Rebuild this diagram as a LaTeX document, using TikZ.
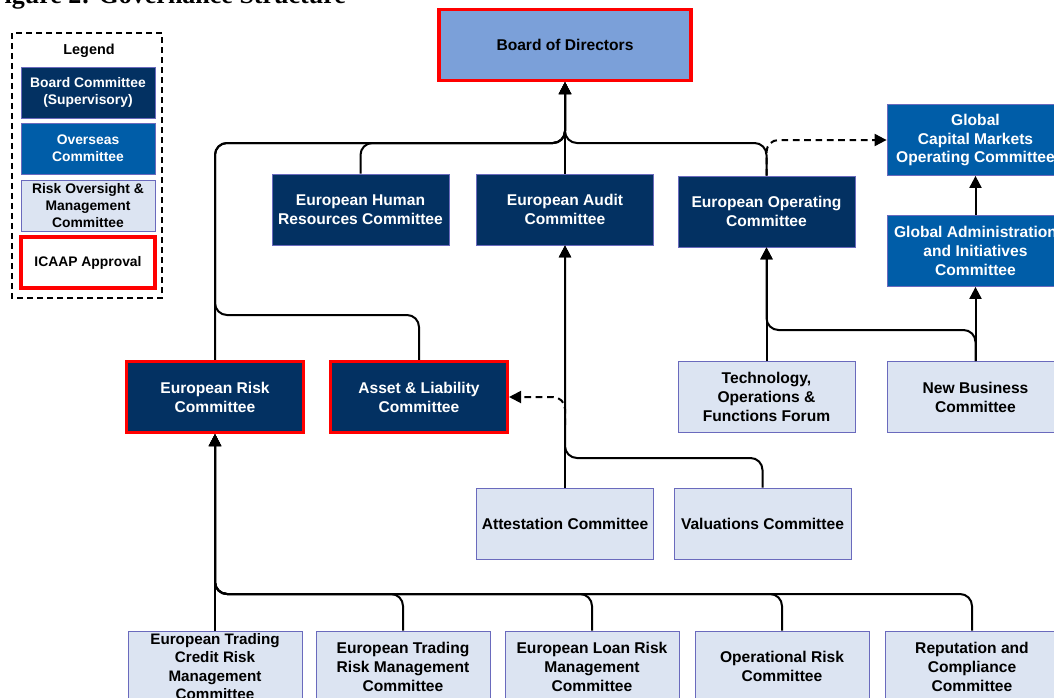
\documentclass[tikz,border=0pt]{standalone}
\usepackage{fontspec}
\setmainfont{Liberation Sans}
\newfontfamily\titlefont{Liberation Serif}
\usetikzlibrary{arrows.meta}
\definecolor{navy}{HTML}{033162}
\definecolor{oversea}{HTML}{005DA8}
\definecolor{paleblue}{HTML}{DCE4F2}
\definecolor{boardblue}{HTML}{7BA0D9}
\definecolor{edgeblue}{HTML}{6A6ABD}
\definecolor{icaapred}{HTML}{FF0000}

\begin{document}
\begin{tikzpicture}[x=0.75pt, y=-0.75pt]
  \tikzstyle{box}=[rectangle, draw=edgeblue, line width=0.6pt, align=center,
    font=\bfseries\fontsize{11.7}{14.2}\selectfont, minimum width=132.75pt,
    minimum height=53.25pt, inner sep=1pt]
  \tikzstyle{supbox}=[box, fill=navy, text=white]
  \tikzstyle{seabox}=[box, fill=oversea, text=white]
  \tikzstyle{riskbox}=[box, fill=paleblue, text=black]
  \tikzstyle{lowbox}=[riskbox, minimum width=130.5pt]
  \tikzstyle{icaap}=[draw=icaapred, line width=2.3pt]
  \tikzstyle{keybox}=[font=\bfseries\fontsize{10.4}{12.9}\selectfont,
    minimum width=100.5pt, minimum height=38.25pt]
  \tikzstyle{link}=[line width=1.5pt, rounded corners=9pt,
    -{Triangle[length=9pt, width=9pt]}]
  \tikzstyle{dashlink}=[link, dash pattern=on 5pt off 3.5pt]
  \useasboundingbox (0, 0) rectangle (1054, 697);
  \node[font=\titlefont\bfseries\fontsize{19.5}{23}\selectfont, anchor=base west]
    (title) at (-16, 3) {Figure 2: Governance Structure};
  \draw[line width=0.8pt, dash pattern=on 4.5pt off 3pt] (12, 33) rectangle (162, 298);
  \node[font=\bfseries\fontsize{10.8}{12.9}\selectfont] (legend) at (89, 51) {Legend};
  \node[supbox, keybox] (key-sup) at (88, 92.5) {Board Committee\\(Supervisory)};
  \node[seabox, keybox] (key-sea) at (88, 148.5) {Overseas\\Committee};
  \node[riskbox, keybox] (key-risk) at (88, 205.5) {Risk Oversight \&\\Management\\Committee};
  \node[box, icaap, keybox] (key-icaap) at (88, 262.5) {ICAAP Approval};
  \node[box, icaap, fill=boardblue, minimum width=189pt] (BOD) at (565, 45) {Board of Directors};
  \node[supbox] (EHRC) at (360.5, 209.5) {European Human\\Resources Committee};
  \node[supbox] (EAC) at (565, 209.5) {European Audit\\Committee};
  \node[supbox] (EOC) at (766.5, 211.5) {European Operating\\Committee};
  \node[seabox] (GCMOC) at (975.5, 140) {Global\\Capital Markets\\Operating Committee};
  \node[seabox] (GAIC) at (975.5, 251) {Global Administration\\and Initiatives\\Committee};
  \node[supbox, icaap] (ERC) at (215, 397) {European Risk\\Committee};
  \node[supbox, icaap] (ALC) at (419, 397) {Asset \& Liability\\Committee};
  \node[riskbox] (TOFF) at (766.5, 397) {Technology,\\Operations \&\\Functions Forum};
  \node[riskbox] (NBC) at (975.5, 397) {New Business\\Committee};
  \node[riskbox] (AC) at (565, 523.5) {Attestation Committee};
  \node[riskbox] (VC) at (762.5, 523.5) {Valuations Committee};
  \node[lowbox, font=\bfseries\fontsize{11.4}{13.7}\selectfont] (ETCRMC) at (215, 666.5)
    {European Trading\\Credit Risk\\Management\\Committee};
  \node[lowbox] (ETRMC) at (403, 666.5) {European Trading\\Risk Management\\Committee};
  \node[lowbox] (ELRMC) at (592, 666.5) {European Loan Risk\\Management\\Committee};
  \node[lowbox] (ORC) at (782, 666.5) {Operational Risk\\Committee};
  \node[lowbox] (RCC) at (972, 666.5) {Reputation and\\Compliance\\Committee};
  \coordinate (topbus) at (565, 143);
  \coordinate (riskjoin) at (215, 315);
  \coordinate (opsjoin) at (766.5, 330);
  \coordinate (auditjoin) at (565, 458);
  \coordinate (auditsplit) at (565, 425);
  \coordinate (lowbus) at (215, 594);
  \draw[link] (EAC.north) -- (BOD.south);
  \draw[link] (EHRC.north) |- (topbus) -- (BOD.south);
  \draw[link] (EOC.north) |- (topbus) -- (BOD.south);
  \draw[link] (ERC.north) |- (topbus) -- (BOD.south);
  \draw[link] (ALC.north) |- (riskjoin) |- (topbus) -- (BOD.south);
  \draw[dashlink] (EOC.north) |- (GCMOC.west);
  \draw[link] (GAIC.north) -- (GCMOC.south);
  \draw[link] (NBC.north) -- (GAIC.south);
  \draw[link] (TOFF.north) -- (EOC.south);
  \draw[link] (NBC.north) |- (opsjoin) -- (EOC.south);
  \draw[link] (AC.north) -- (EAC.south);
  \draw[link] (VC.north) |- (auditjoin) -- (EAC.south);
  \draw[dashlink] (auditsplit) |- (ALC.east);
  \draw[link] (ETCRMC.north) -- (ERC.south);
  \foreach \n in {ETRMC, ELRMC, ORC, RCC} {
    \draw[link] (\n.north) |- (lowbus) -- (ERC.south);
  }
\end{tikzpicture}
\end{document}
